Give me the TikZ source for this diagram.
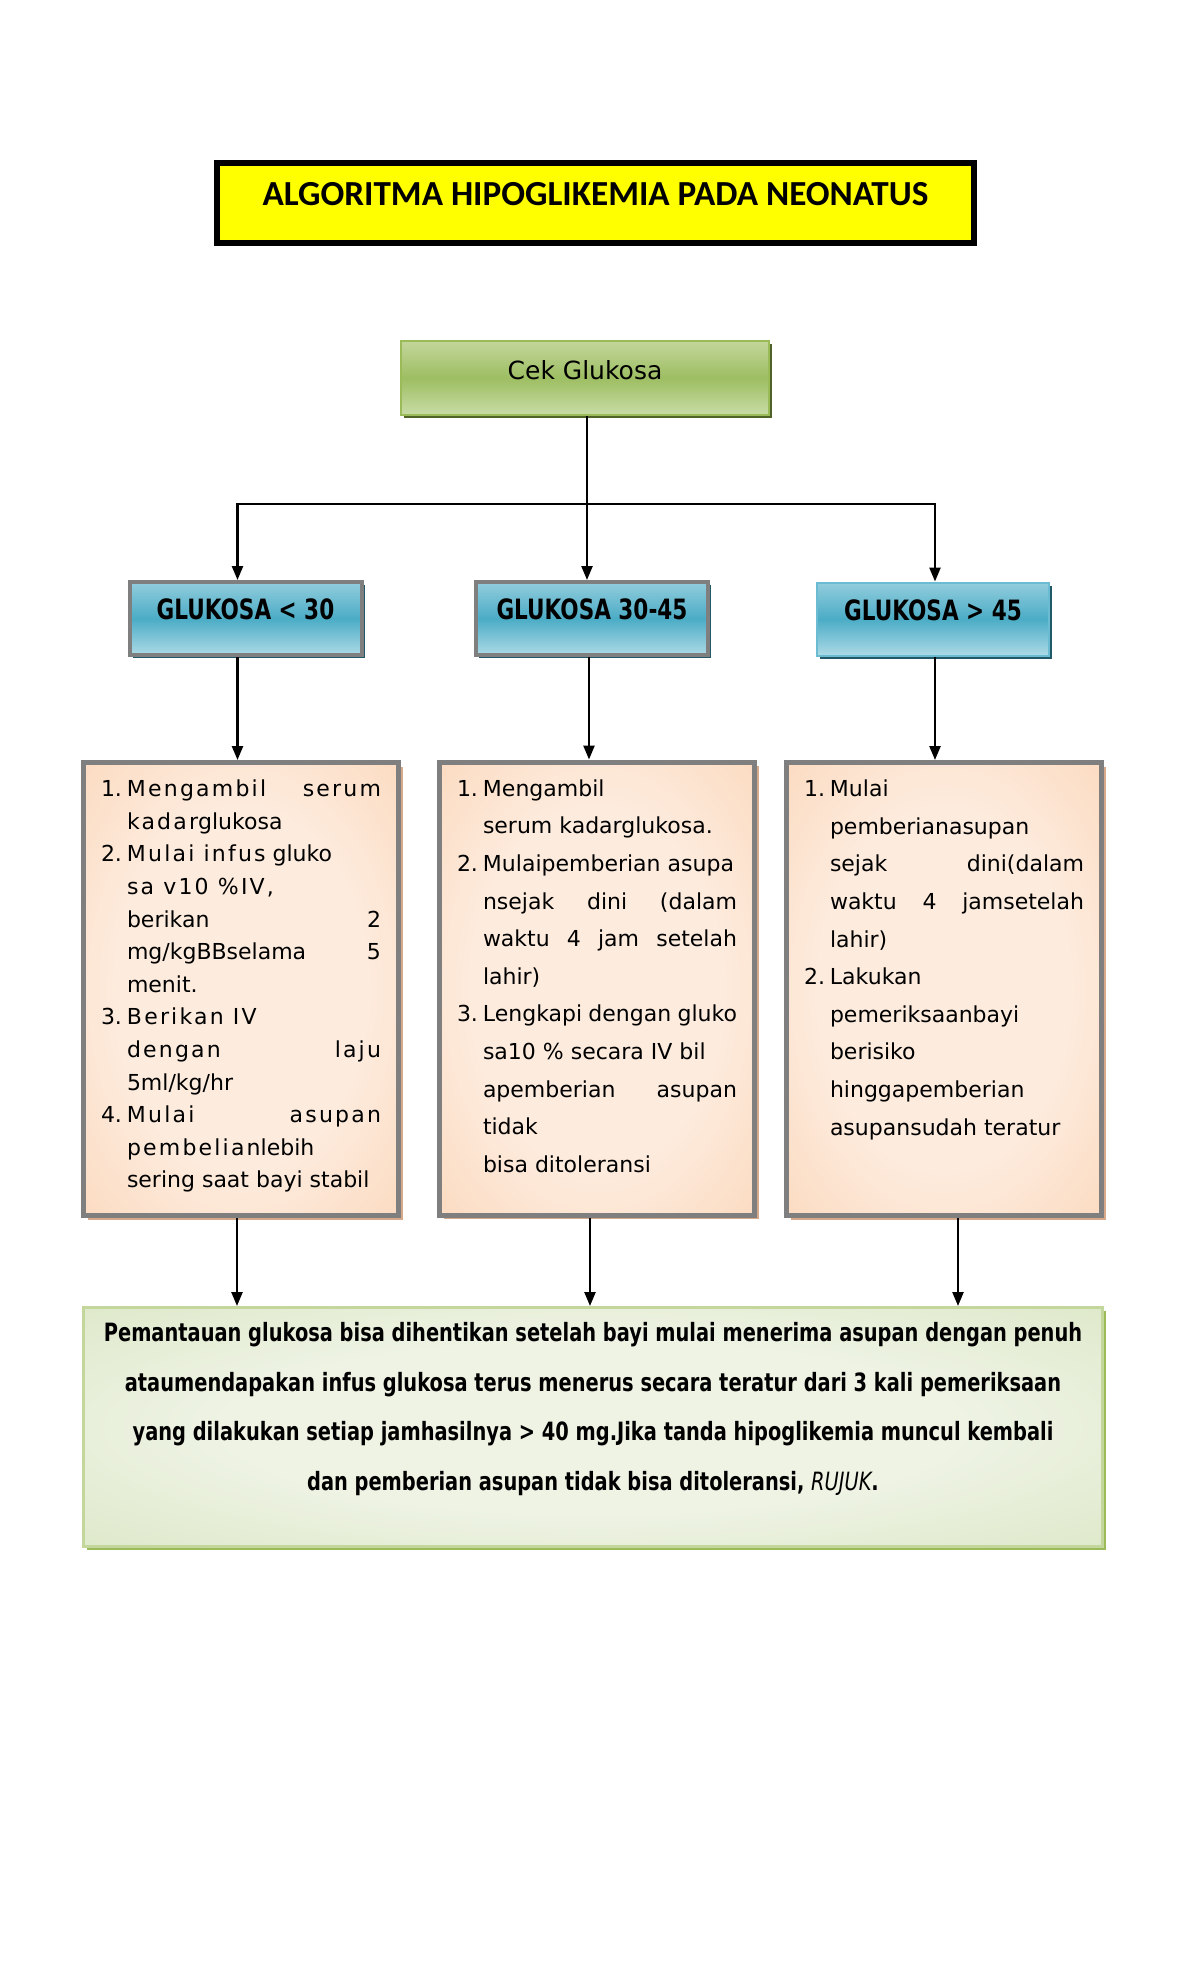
\documentclass[tikz,border=0pt]{standalone}
\usepackage{fontspec}
\setmainfont{DejaVu Sans}
\newfontfamily\judulfont{Carlito}
\newfontfamily\sempitfont[FakeStretch=0.77]{DejaVu Sans}
\usetikzlibrary{arrows.meta,shadows}

\definecolor{kuningJudul}{HTML}{FFFF00}
\definecolor{bayangJudul}{HTML}{D5A686}
\definecolor{hijauAtas}{HTML}{C3D69B}
\definecolor{hijauTengah}{HTML}{9DBE62}
\definecolor{hijauBawah}{HTML}{C9DCA7}
\definecolor{garisHijau}{HTML}{9BBB59}
\definecolor{bayangHijau}{HTML}{4F6228}
\definecolor{biruAtas}{HTML}{93CDDD}
\definecolor{biruTengah}{HTML}{4BACC6}
\definecolor{biruBawah}{HTML}{ADDAE6}
\definecolor{garisBiru}{HTML}{6BBCD2}
\definecolor{bayangBiru}{HTML}{215968}
\definecolor{abuGaris}{HTML}{7F7F7F}
\definecolor{oranyeMuda}{HTML}{FDEBDD}
\definecolor{oranyeTua}{HTML}{F9BD8B}
\definecolor{bayangOranye}{HTML}{D6A98B}
\definecolor{hijauPucat}{HTML}{EEF3E4}
\definecolor{hijauTepi}{HTML}{C4D79E}
\definecolor{garisHijauMuda}{HTML}{C3D69B}
\definecolor{bayangHijauMuda}{HTML}{9BBB59}

\pgfdeclareradialshading{rincianGradasi}{\pgfpoint{0bp}{0bp}}{color(0bp)=(oranyeMuda); color(20bp)=(oranyeMuda); color(66bp)=(oranyeTua); color(80bp)=(oranyeTua)}
\pgfdeclareradialshading{pantauGradasi}{\pgfpoint{0bp}{0bp}}{color(0bp)=(hijauPucat); color(18bp)=(hijauPucat); color(66bp)=(hijauTepi); color(80bp)=(hijauTepi)}

% one line of a numbered list: number, then the text
\newcommand{\baris}[2]{\makebox[13pt][l]{#1}\makebox[127pt][s]{#2\hfil}}
\newcommand{\renggang}[1]{{\addfontfeature{LetterSpace=10}#1}}

\begin{document}
\begin{tikzpicture}[x=0.5pt,y=-0.5pt,
    judul/.style={draw=black, line width=3pt, fill=kuningJudul,
        minimum width=378.5pt, minimum height=40pt, text depth=9pt,
        font=\judulfont\bfseries\fontsize{17.6}{21}\selectfont,
        drop shadow={shadow xshift=1.5pt, shadow yshift=-1.5pt, fill=bayangJudul, opacity=1}},
    cek/.style={draw=garisHijau, line width=0.75pt,
        top color=hijauAtas, bottom color=hijauBawah, middle color=hijauTengah,
        minimum width=184pt, minimum height=37pt, text depth=8pt,
        font=\fontsize{12.5}{15}\selectfont,
        drop shadow={shadow xshift=1.5pt, shadow yshift=-1.5pt, fill=bayangHijau, opacity=1}},
    kadar/.style={draw=abuGaris, line width=2pt,
        top color=biruAtas, bottom color=biruBawah, middle color=biruTengah,
        minimum width=116pt, minimum height=36.5pt, text depth=9pt,
        font=\sempitfont\bfseries\fontsize{14}{16}\selectfont,
        drop shadow={shadow xshift=1.5pt, shadow yshift=-1.5pt, fill=bayangBiru, opacity=1}},
    rincian/.style={draw=abuGaris, line width=2.5pt, shading=rincianGradasi,
        minimum width=157.5pt, minimum height=226.5pt, inner sep=0pt,
        font=\fontsize{11}{16.3}\selectfont,
        drop shadow={shadow xshift=2pt, shadow yshift=-2pt, fill=bayangOranye, opacity=1}},
    pantau/.style={draw=garisHijauMuda, line width=1.5pt, shading=pantauGradasi,
        minimum width=509.5pt, minimum height=119.5pt, inner sep=0pt,
        font=\sempitfont\bfseries\fontsize{12.6}{24.8}\selectfont,
        drop shadow={shadow xshift=1.5pt, shadow yshift=-1.5pt, fill=bayangHijauMuda, opacity=1}},
    garis/.style={line width=1.2pt},
    panah/.style={line width=1.2pt, -{Triangle[length=7pt,width=5.5pt]}}]

    \path[fill=white, use as bounding box] (0,0) rectangle (1200,1976);

    % judul
    \node[judul] (judul) at (595.5,203) {ALGORITMA HIPOGLIKEMIA PADA NEONATUS};

    % cek dan tiga kadar
    \node[cek] (cek) at (585,378) {Cek Glukosa};
    \node[kadar] (rendah) at (245.5,618.5) {GLUKOSA < 30};
    \node[kadar] (sedang) at (592,618.5) {GLUKOSA 30-45};
    \node[kadar, draw=garisBiru, line width=1pt] (tinggi) at (933,619) {GLUKOSA > 45};

    % tindakan
    \node[rincian] (rincianRendah) at (241,989) {\parbox[c][224pt][t]{140pt}{\vspace*{7.5pt}%
        \baris{1.}{\renggang{Mengambil\hfill serum}}\\
        \baris{}{\renggang{kadar}glukosa}\\
        \baris{2.}{\renggang{Mulai infus} gluko}\\
        \baris{}{\renggang{sa v10 \%IV,}}\\
        \baris{}{berikan\hfill 2}\\
        \baris{}{mg/kgBBselama\hfill 5}\\
        \baris{}{menit.}\\
        \baris{3.}{\renggang{Berikan IV}}\\
        \baris{}{\renggang{dengan\hfill laju}}\\
        \baris{}{5ml/kg/hr}\\
        \baris{4.}{\renggang{Mulai\hfill asupan}}\\
        \baris{}{\renggang{pembelian}lebih}\\
        \baris{}{sering saat bayi stabil}}};
    \node[rincian] (rincianSedang) at (597,988.5) {\parbox[c][224pt][t]{140pt}{\fontsize{11}{18.8}\selectfont\vspace*{7.5pt}%
        \baris{1.}{Mengambil}\\
        \baris{}{serum kadarglukosa.}\\
        \baris{2.}{Mulaipemberian asupa}\\
        \baris{}{nsejak\hfill dini\hfill (dalam}\\
        \baris{}{waktu\hfill 4\hfill jam\hfill setelah}\\
        \baris{}{lahir)}\\
        \baris{3.}{Lengkapi dengan gluko}\\
        \baris{}{sa10 \% secara IV bil}\\
        \baris{}{apemberian\hfill asupan}\\
        \baris{}{tidak}\\
        \baris{}{bisa ditoleransi}}};
    \node[rincian] (rincianTinggi) at (944,989) {\parbox[c][224pt][t]{140pt}{\fontsize{11}{18.8}\selectfont\vspace*{7.5pt}%
        \baris{1.}{Mulai}\\
        \baris{}{pemberianasupan}\\
        \baris{}{sejak\hfill dini(dalam}\\
        \baris{}{waktu\hfill 4\hfill jamsetelah}\\
        \baris{}{lahir)}\\
        \baris{2.}{Lakukan}\\
        \baris{}{pemeriksaanbayi}\\
        \baris{}{berisiko}\\
        \baris{}{hinggapemberian}\\
        \baris{}{asupansudah teratur}}};

    % pemantauan
    \node[pantau] (pantau) at (593,1427) {\parbox[c][116pt][t]{505pt}{\vspace*{5.7pt}\centering
        Pemantauan glukosa bisa dihentikan setelah bayi mulai menerima asupan dengan penuh\\
        ataumendapakan infus glukosa terus menerus secara teratur dari 3 kali pemeriksaan\\
        yang dilakukan setiap jamhasilnya > 40 mg.Jika tanda hipoglikemia muncul kembali\\
        dan pemberian asupan tidak bisa ditoleransi, {\mdseries\itshape RUJUK}.}};

    % panah
    \coordinate (cabang) at (587,504);
    \draw[garis] (cek.south -| cabang) -- (cabang);
    \draw[panah] (cabang) -| ([xshift=-4pt]rendah.north);
    \draw[panah] (cabang) -- (cabang |- sedang.north);
    \draw[panah] (cabang) -| ([xshift=1pt]tinggi.north);

    \draw[panah] ([xshift=-4pt]rendah.south) -- ([xshift=-4pt]rendah.south |- rincianRendah.north);
    \draw[panah] ([xshift=-1.5pt]sedang.south) -- ([xshift=-1.5pt]sedang.south |- rincianSedang.north);
    \draw[panah] ([xshift=1pt]tinggi.south) -- ([xshift=1pt]tinggi.south |- rincianTinggi.north);

    \draw[panah] ([xshift=-2pt]rincianRendah.south) -- ([xshift=-2pt]rincianRendah.south |- pantau.north);
    \draw[panah] ([xshift=-3.5pt]rincianSedang.south) -- ([xshift=-3.5pt]rincianSedang.south |- pantau.north);
    \draw[panah] ([xshift=7pt]rincianTinggi.south) -- ([xshift=7pt]rincianTinggi.south |- pantau.north);
\end{tikzpicture}
\end{document}
